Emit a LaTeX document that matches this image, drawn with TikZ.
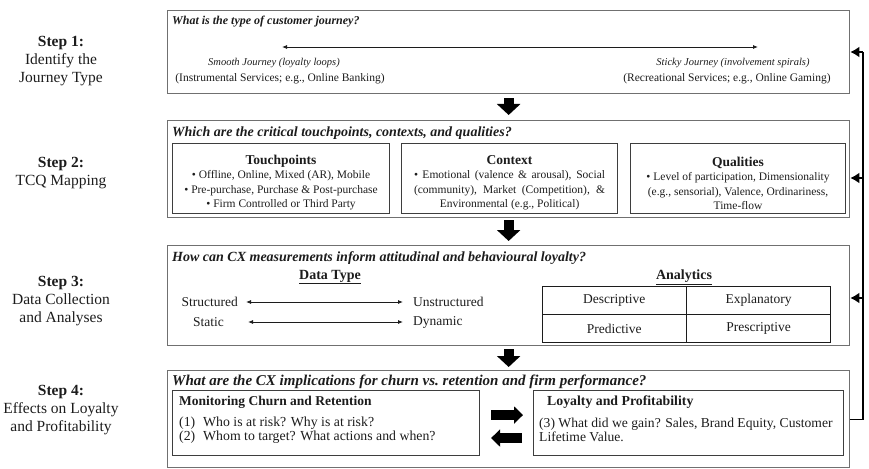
\documentclass[tikz,border=0pt]{standalone}
\usepackage{fontspec}
\setmainfont{Liberation Serif}
\usetikzlibrary{arrows.meta,calc}
\definecolor{ink}{HTML}{1C1C1C}
\definecolor{frame}{HTML}{707070}
\newcommand{\fsz}[1]{\fontsize{#1}{1.2\dimexpr#1pt\relax}\selectfont}
\tikzset{
  stage/.style={draw=frame, line width=1.3pt, anchor=north west, inner sep=0pt},
  panel/.style={draw=ink!85, line width=1.1pt, anchor=north west, inner sep=0pt},
  steplab/.style={text=ink, align=center, font=\fontsize{15.5}{18}\selectfont},
  quest/.style={text=ink, anchor=west, inner sep=0pt, font=\fsz{#1}\bfseries\itshape},
  txt/.style={text=ink, inner sep=0pt, font=\fontsize{11.5}{14.5}\selectfont},
  journey/.style={text=ink, inner sep=0pt, font=\fontsize{10.5}{12}\selectfont\itshape},
  head/.style={text=ink, inner sep=0pt, font=\fontsize{14}{16}\selectfont\bfseries},
  cell/.style={draw=ink, line width=0.9pt, minimum width=143.5pt, minimum height=27.5pt,
    anchor=north west, inner sep=0pt, text=ink, font=\fontsize{13.5}{15}\selectfont},
  blockarrow/.style={draw=black, line width=10pt, -{Triangle[width=23pt,length=11pt]}},
  sidearrow/.style={draw=black, line width=10pt, -{Triangle[width=17pt,length=9pt]}},
  feed/.style={draw=black, line width=1.3pt},
  feedarrow/.style={draw=black, line width=2.2pt, -{Latex[length=9pt,width=11pt]}},
  spanarrow/.style={draw=ink, line width=0.8pt, {Latex[length=5pt,width=4pt]}-{Latex[length=5pt,width=4pt]}},
}

\begin{document}
\begin{tikzpicture}[x=1pt,y=-1pt]
  \useasboundingbox (0,0) rectangle (869,468);

  % step labels
  \node[steplab] (s1) at (61,61) {\textbf{Step 1:}\\Identify the\\Journey Type};
  \node[steplab] (s2) at (61,173) {\textbf{Step 2:}\\TCQ Mapping};
  \node[steplab] (s3) at (61,301) {\textbf{Step 3:}\\Data Collection\\and Analyses};
  \node[steplab] (s4) at (61,410) {\textbf{Step 4:}\\Effects on Loyalty\\and Profitability};

  % the four stages
  \node[stage, minimum width=682pt, minimum height=83pt] (box1) at (167,10) {};
  \node[stage, minimum width=682pt, minimum height=97pt] (box2) at (167,120) {};
  \node[stage, minimum width=682pt, minimum height=100pt] (box3) at (167,245) {};
  \node[stage, minimum width=682pt, minimum height=97pt] (box4) at (167,370) {};

  \draw[blockarrow] ([yshift=-4pt]box1.south) -- ([yshift=5pt]box2.north);
  \draw[blockarrow] ([yshift=-2pt]box2.south) -- ([yshift=4pt]box3.north);
  \draw[blockarrow] ([yshift=-3pt]box3.south) -- ([yshift=3pt]box4.north);

  % stage 1: journey type
  \node[quest=12] (q1) at (172,22) {What is the type of customer journey?};
  \coordinate (smoothend) at (282,47);
  \coordinate (stickyend) at (758,47);
  \draw[spanarrow] (smoothend) -- (stickyend);
  \node[journey] (smooth) at (274,63) {Smooth Journey (loyalty loops)};
  \node[txt] (instr) at (280,79) {(Instrumental Services; e.g., Online Banking)};
  \node[journey] (sticky) at (733,63) {Sticky Journey (involvement spirals)};
  \node[txt] (recr) at (727,79) {(Recreational Services; e.g., Online Gaming)};

  % stage 2: TCQ
  \node[quest=14] (q2) at (172,133) {Which are the critical touchpoints, contexts, and qualities?};
  \node[panel, minimum width=217pt, minimum height=70pt] (touch) at (172,143) {};
  \node[panel, minimum width=216pt, minimum height=70pt] (context) at (401,143) {};
  \node[panel, minimum width=215pt, minimum height=70pt] (qual) at (630,143) {};
  \node[txt, align=center] (touchtxt) at ($(touch.center)+(0,4)$)
    {{\fontsize{13.5}{14.5}\selectfont\bfseries Touchpoints}\\
     • Offline, Online, Mixed (AR), Mobile\\
     • Pre-purchase, Purchase \& Post-purchase\\
     • Firm Controlled or Third Party};
  \node[txt, align=center] (contexttxt) at ($(context.center)+(0,4)$)
    {{\fontsize{13.5}{14.5}\selectfont\bfseries Context}\\
     \makebox[191pt][s]{• Emotional (valence \& arousal), Social}\\
     \makebox[191pt][s]{(community), Market (Competition), \&}\\
     Environmental (e.g., Political)};
  \node[txt, align=center] (qualtxt) at ($(qual.center)+(0,5)$)
    {{\fontsize{13.5}{14.5}\selectfont\bfseries Qualities}\\
     • Level of participation, Dimensionality\\
     (e.g., sensorial), Valence, Ordinariness,\\
     Time-flow};

  % stage 3: data and analytics
  \node[quest=14] (q3) at (172,258) {How can CX measurements inform attitudinal and behavioural loyalty?};
  \node[head] (dtype) at (330,277) {\underline{Data Type}};
  \node[head] (analytics) at (684,277) {\underline{Analytics}};
  \node[txt, font=\fsz{13.5}, anchor=east] (struct) at (238,302) {Structured};
  \node[txt, font=\fsz{13.5}, anchor=west] (unstruct) at (413,302) {Unstructured};
  \node[txt, font=\fsz{13.5}, anchor=east] (static) at (224,322) {Static};
  \node[txt, font=\fsz{13.5}, anchor=west] (dynamic) at (413,322) {Dynamic};
  \draw[spanarrow, shorten <=8pt, shorten >=10pt] (struct) -- (unstruct);
  \draw[spanarrow, shorten <=10pt, shorten >=10pt] (static.east -| struct.east) -- (dynamic.west);
  \node[cell] (desc) at (542,286) {Descriptive};
  \node[cell] (expl) at (desc.north east) {Explanatory};
  \node[cell] (pred) at (desc.south west) {Predictive};
  \node[cell] (presc) at (pred.north east) {Prescriptive};

  % stage 4: churn and profitability
  \node[quest=15] (q4) at (172,382) {What are the CX implications for churn vs.\ retention and firm performance?};
  \node[panel, minimum width=307pt, minimum height=65pt] (mon) at (172,390) {};
  \node[panel, minimum width=310pt, minimum height=65pt] (loy) at (533,390) {};
  \node[head, font=\fsz{13.5}\bfseries, anchor=west] (montitle) at (179,402) {Monitoring Churn and Retention};
  \node[txt, font=\fontsize{13.8}{14.5}\selectfont, anchor=west, align=left] (montxt) at (179,430)
    {\makebox[24pt][l]{(1)}Who is at risk? Why is at risk?\\
     \makebox[24pt][l]{(2)}Whom to target? What actions and when?};
  \node[head, font=\fsz{13.8}\bfseries, anchor=west] (loytitle) at (547,402) {Loyalty and Profitability};
  \node[txt, font=\fontsize{13.6}{14.5}\selectfont, anchor=west, align=left] (loytxt) at (539,430)
    {(3) What did we gain? Sales, Brand Equity, Customer\\Lifetime Value.};
  \draw[sidearrow] ($(mon.east)+(11,-8)$) -- ($(loy.west)+(-10,-8)$);
  \draw[sidearrow] ($(loy.west)+(-11,15)$) -- ($(mon.east)+(11,15)$);

  % feedback loop
  \coordinate (fbtop) at (863,52);
  \coordinate (fb2) at (863,178);
  \coordinate (fb3) at (863,298);
  \draw[feed] (box4.east) -| (fbtop);
  \draw[feedarrow] (fbtop) -- (fbtop -| box1.east);
  \draw[feedarrow] (fb2) -- (fb2 -| box2.east);
  \draw[feedarrow] (fb3) -- (fb3 -| box3.east);
\end{tikzpicture}
\end{document}
